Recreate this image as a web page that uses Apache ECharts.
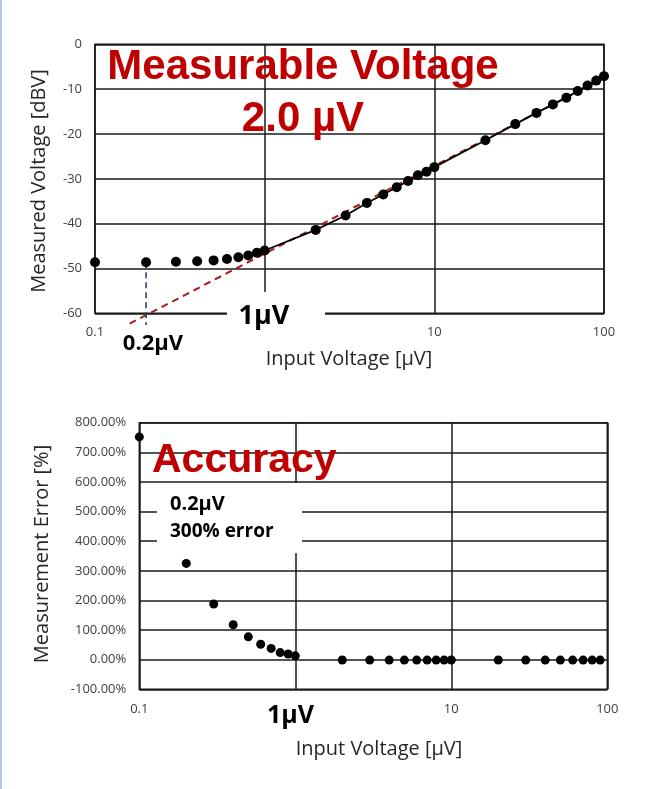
<!DOCTYPE html>
<html><head><meta charset="utf-8">
<script src="https://cdn.jsdelivr.net/npm/echarts@6/dist/echarts.min.js"></script>
<style>html,body{margin:0;padding:0;background:#fff}#c{width:656px;height:789px}</style>
</head><body><div id="c"></div>
<script>
// ---- data ----
const topX = [0.1,0.2,0.3,0.4,0.5,0.6,0.7,0.8,0.9,1,2,3,4,5,6,7,8,9,10,20,30,40,50,60,70,80,90,100];
const topY = [-48.6,-48.6,-48.5,-48.4,-48.2,-47.9,-47.5,-47.1,-46.5,-46.0,-41.4,-38.2,-35.4,-33.5,-31.9,-30.5,-29.2,-28.4,-27.4,-21.4,-17.8,-15.3,-13.4,-11.9,-10.4,-9.2,-8.1,-7.1];
const lineStartIndex = 9; // solid line drawn from 1 µV upward
const idealX = [0.16, 125];
const idealY = [-62.3, -5.6];
const markX = [0.2, 0.2];
const markY = [-48.6, -62.6];
const errX = [0.1,0.2,0.3,0.4,0.5,0.6,0.7,0.8,0.9,1,2,3,4,5,6,7,8,9,10,20,30,40,50,60,70,80,90];
const errY = [752,325,188,118,77,52,38,24,19,13,-1,-1.5,-1.5,-1.5,-1.5,-1.5,-1.5,-1.5,-1,-1,-1.5,-1.5,-1.5,-1.5,-1.5,-1.5,-1.5];
const xTickShown = [0.1, 10, 100];

const zip = (a,b) => a.map((v,i)=>[v,b[i]]);
const chart = echarts.init(document.getElementById('c'), null, {renderer:'canvas'});
const gridLine = {show:true, lineStyle:{color:'#1a1a1a', width:1.5}};
const lbl = {color:'#404040', fontSize:13, fontFamily:'Open Sans'};
const xLabelFmt = v => { const r = +(+v).toPrecision(3); return xTickShown.includes(r) ? String(r) : ''; };

chart.setOption({
  animation:false,
  grid:[
    {left:95, top:44.3, width:509, height:269, show:true, borderColor:'#1a1a1a', borderWidth:1.5},
    {left:139.3, top:422.7, width:468, height:266.6, show:true, borderColor:'#1a1a1a', borderWidth:1.5}
  ],
  xAxis:[
    {gridIndex:0, type:'log', logBase:10, min:0.1, max:100, splitLine:gridLine, axisLine:{show:false}, axisTick:{show:false},
     axisLabel:Object.assign({margin:12, formatter:xLabelFmt}, lbl)},
    {gridIndex:1, type:'log', logBase:10, min:0.1, max:100, splitLine:gridLine, axisLine:{show:false}, axisTick:{show:false},
     axisLabel:Object.assign({margin:13, formatter:xLabelFmt}, lbl)}
  ],
  yAxis:[
    {gridIndex:0, type:'value', min:-60, max:0, interval:10, splitLine:gridLine, axisLine:{show:false}, axisTick:{show:false},
     axisLabel:Object.assign({margin:13}, lbl)},
    {gridIndex:1, type:'value', min:-100, max:800, interval:100, splitLine:gridLine, axisLine:{show:false}, axisTick:{show:false},
     axisLabel:Object.assign({margin:13, formatter:v=>v.toFixed(2)+'%'}, lbl)}
  ],
  series:[
    {type:'line', xAxisIndex:0, yAxisIndex:0, data:zip(idealX, idealY), clip:false, symbol:'none',
     lineStyle:{color:'#a81c1c', width:2, type:[7,5]}, z:3},
    {type:'line', xAxisIndex:0, yAxisIndex:0, data:zip(markX, markY), clip:false, symbol:'none',
     lineStyle:{color:'#1f3864', width:1.5, type:[6,4]}, z:3},
    {type:'line', xAxisIndex:0, yAxisIndex:0, data:zip(topX.slice(lineStartIndex), topY.slice(lineStartIndex)), symbol:'none',
     lineStyle:{color:'#000', width:1.8}, z:4},
    {type:'scatter', xAxisIndex:0, yAxisIndex:0, data:zip(topX, topY), symbolSize:10, clip:false,
     itemStyle:{color:'#000', opacity:1}, z:5},
    {type:'scatter', xAxisIndex:1, yAxisIndex:1, data:zip(errX, errY), symbolSize:9, clip:false,
     itemStyle:{color:'#000', opacity:1}, z:5}
  ],
  graphic:[
    {type:'rect', left:0, top:0, shape:{width:2, height:789}, style:{fill:'#b4c7e7'}, z:100},
    {type:'rect', shape:{x:227, y:292, width:98, height:40}, style:{fill:'#fff'}, z:100},
    {type:'rect', shape:{x:157, y:483, width:145, height:70}, style:{fill:'#fff'}, z:100},
    {type:'text', z:101, style:{x:303, y:67, text:'Measurable Voltage', font:'bold 42px "Liberation Sans"', fill:'#c00000', align:'center', verticalAlign:'middle'}},
    {type:'text', z:101, style:{x:303, y:119, text:'2.0 µV', font:'bold 42px "Liberation Sans"', fill:'#c00000', align:'center', verticalAlign:'middle'}},
    {type:'text', z:101, style:{x:152, y:461, text:'Accuracy', font:'bold 41px "Liberation Sans"', fill:'#c00000', align:'left', verticalAlign:'middle'}},
    {type:'text', z:101, style:{x:264, y:316, text:'1µV', font:'bold 27px "Open Sans"', fill:'#000', align:'center', verticalAlign:'middle'}},
    {type:'text', z:101, style:{x:153, y:344, text:'0.2µV', font:'bold 22px "Open Sans"', fill:'#000', align:'center', verticalAlign:'middle'}},
    {type:'text', z:101, style:{x:290.5, y:716, text:'1µV', font:'bold 25px "Open Sans"', fill:'#000', align:'center', verticalAlign:'middle'}},
    {type:'text', z:101, style:{x:170, y:504, text:'0.2µV', font:'bold 20px "Open Sans"', fill:'#000', align:'left', verticalAlign:'middle'}},
    {type:'text', z:101, style:{x:170, y:532, text:'300% error', font:'bold 19px "Open Sans"', fill:'#000', align:'left', verticalAlign:'middle'}},
    {type:'text', z:101, style:{x:349, y:359, text:'Input Voltage [µV]', font:'20px "Open Sans"', fill:'#262626', align:'center', verticalAlign:'middle'}},
    {type:'text', z:101, style:{x:379, y:749, text:'Input Voltage [µV]', font:'20px "Open Sans"', fill:'#262626', align:'center', verticalAlign:'middle'}},
    {type:'text', z:101, x:39, y:181, rotation:Math.PI/2, style:{x:0, y:0, text:'Measured Voltage [dBV]', font:'20px "Open Sans"', fill:'#262626', align:'center', verticalAlign:'middle'}},
    {type:'text', z:101, x:42, y:554, rotation:Math.PI/2, style:{x:0, y:0, text:'Measurement Error [%]', font:'20px "Open Sans"', fill:'#262626', align:'center', verticalAlign:'middle'}}
  ]
});
</script></body></html>
